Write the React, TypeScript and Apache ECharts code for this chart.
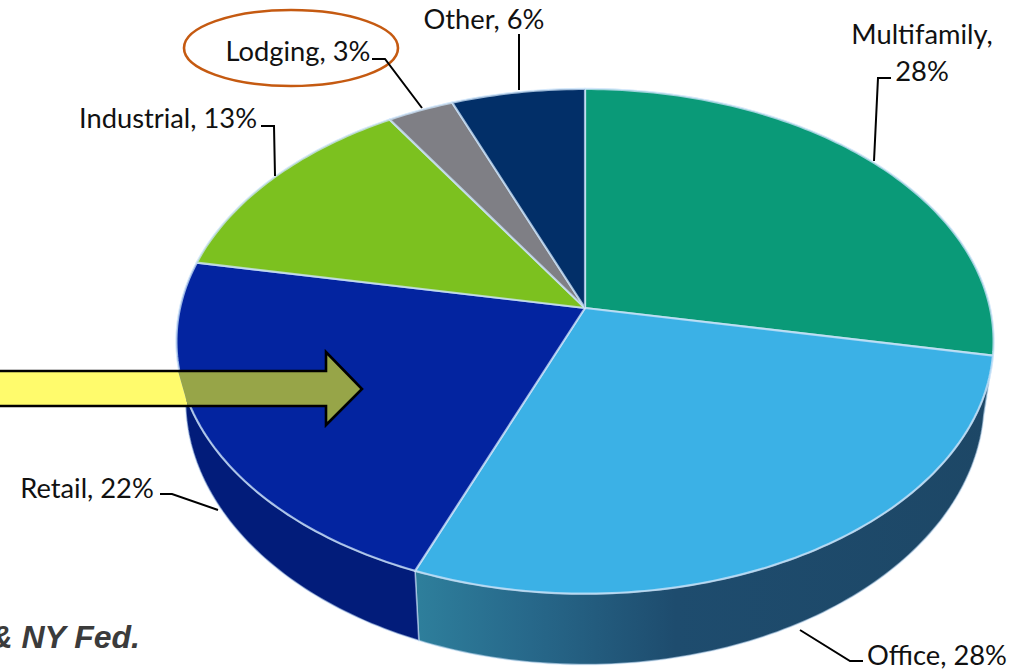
import React, { useEffect, useRef } from "react";
import * as echarts from "echarts";

const categories = ["Multifamily", "Office", "Retail", "Industrial", "Lodging", "Other"];
const shares = [28, 28, 22, 13, 3, 6];
const topColors = ["#0A9A78", "#3BB1E6", "#0324A0", "#7CC11F", "#7F7F85", "#022F68"];
const sideColors = ["#06604A", "office", "#021C7A", "#4C7A12", "#55555A", "#011D40"];

// Projection of the tilted disc (perspective view of a unit circle).
const topDisc = { cx: 585, cy: 308, a: 248, b: 405, k: -0.132 };
const lowDisc = { cx: 585, cy: 365, a: 260, b: 396, k: -0.132 };
type Disc = typeof topDisc;

const project = (d: Disc, deg: number): number[] => {
  const t = (deg * Math.PI) / 180;
  const x = Math.sin(t);
  const y = -Math.cos(t);
  const w = 1 + d.k * y;
  return [d.cx + (d.b * x) / w, d.cy + (d.a * y) / w];
};

const total = shares.reduce((s, v) => s + v, 0);
const startDeg = (i: number) => (shares.slice(0, i).reduce((s, v) => s + v, 0) / total) * 360;

const arc = (d: Disc, from: number, to: number): number[][] => {
  const n = Math.max(2, Math.ceil(to - from));
  const out: number[][] = [];
  for (let j = 0; j <= n; j++) out.push(project(d, from + ((to - from) * j) / n));
  return out;
};

const officeSide = new echarts.graphic.LinearGradient(0, 0, 1, 0, [
  { offset: 0, color: "#2E7F9C" },
  { offset: 0.2, color: "#27688A" },
  { offset: 0.45, color: "#1E4C6E" },
  { offset: 1, color: "#1D4766" },
]);

const renderTop = (params: any, api: any) => {
  const i = params.dataIndex;
  const value = api.value(0);
  const from = startDeg(i);
  const to = from + (value / total) * 360;
  const points = [[topDisc.cx, topDisc.cy], ...arc(topDisc, from, to)];
  return {
    type: "polygon",
    shape: { points },
    style: { fill: topColors[i], stroke: "rgba(205,228,250,0.75)", lineWidth: 2.2, lineJoin: "round" },
  };
};

const renderSide = (params: any, api: any) => {
  const i = params.dataIndex;
  const value = api.value(0);
  const from = startDeg(i);
  const to = from + (value / total) * 360;
  const points = [...arc(topDisc, from, to), ...arc(lowDisc, from, to).reverse()];
  return {
    type: "polygon",
    shape: { points },
    style: {
      fill: sideColors[i] === "office" ? officeSide : sideColors[i],
      stroke: "rgba(205,228,250,0.55)",
      lineWidth: 1.6,
      lineJoin: "round",
    },
  };
};

const labelFont = '27.3px Lato, "Noto Sans", sans-serif';
const labels = [
  { text: "Multifamily,", x: 922, y: 33 },
  { text: "28%", x: 922, y: 70 },
  { text: "Office, 28%", x: 937, y: 654 },
  { text: "Retail, 22%", x: 87, y: 487 },
  { text: "Industrial, 13%", x: 168, y: 117 },
  { text: "Lodging, 3%", x: 298, y: 50 },
  { text: "Other, 6%", x: 484, y: 18 },
];
const leaders = [
  [[891, 78], [878, 78], [874, 161]],
  [[800, 630], [850, 661], [863, 661]],
  [[160, 494], [172, 494], [218, 510]],
  [[261, 126], [274, 126], [275, 176]],
  [[372, 59], [385, 59], [422, 108]],
  [[519, 34], [519, 90]],
];

const graphicElements: any[] = [
  {
    type: "polygon",
    z: 10,
    shape: { points: [[0, 371], [178, 371], [188, 406], [0, 406]] },
    style: { fill: "#FFFB6C" },
  },
  {
    type: "polygon",
    z: 10,
    shape: { points: [[178, 371], [326, 371], [326, 352], [362, 389], [326, 425], [326, 406], [188, 406]] },
    style: { fill: "#97A548" },
  },
  {
    type: "polyline",
    z: 11,
    shape: { points: [[0, 371], [326, 371], [326, 352], [362, 389], [326, 425], [326, 406], [0, 406]] },
    style: { fill: "none", stroke: "#000000", lineWidth: 2.6 },
  },
  {
    type: "ellipse",
    z: 11,
    shape: { cx: 291, cy: 48, rx: 107, ry: 38 },
    style: { fill: "none", stroke: "#C55A11", lineWidth: 2.6 },
  },
  ...leaders.map((points) => ({
    type: "polyline",
    z: 12,
    shape: { points },
    style: { fill: "none", stroke: "#000000", lineWidth: 2 },
  })),
  ...labels.map((l) => ({
    type: "text",
    z: 13,
    x: l.x,
    y: l.y,
    style: { text: l.text, font: labelFont, fill: "#111111", align: "center", verticalAlign: "middle" },
  })),
  {
    type: "text",
    z: 13,
    x: 140,
    y: 637,
    style: {
      text: "& NY Fed.",
      font: 'italic bold 32px "Liberation Sans", Arial, sans-serif',
      fill: "#3B3B3B",
      align: "right",
      verticalAlign: "middle",
    },
  },
];

export default function App() {
  const ref = useRef<HTMLDivElement>(null);
  useEffect(() => {
    document.body.style.margin = "0";
    document.body.style.background = "#ffffff";
    const chart = echarts.init(ref.current!, undefined, { renderer: "svg" });
    const data = categories.map((name, i) => ({ name, value: [shares[i]] }));
    chart.setOption({
      animation: false,
      backgroundColor: "#ffffff",
      series: [
        { type: "custom", coordinateSystem: "none", name: "side", z: 2, silent: true, renderItem: renderSide, data },
        { type: "custom", coordinateSystem: "none", name: "top", z: 3, silent: true, renderItem: renderTop, data },
      ],
      graphic: { elements: graphicElements },
    });
    return () => chart.dispose();
  }, []);
  return <div ref={ref} style={{ width: 1017, height: 670, overflow: "hidden" }} />;
}
